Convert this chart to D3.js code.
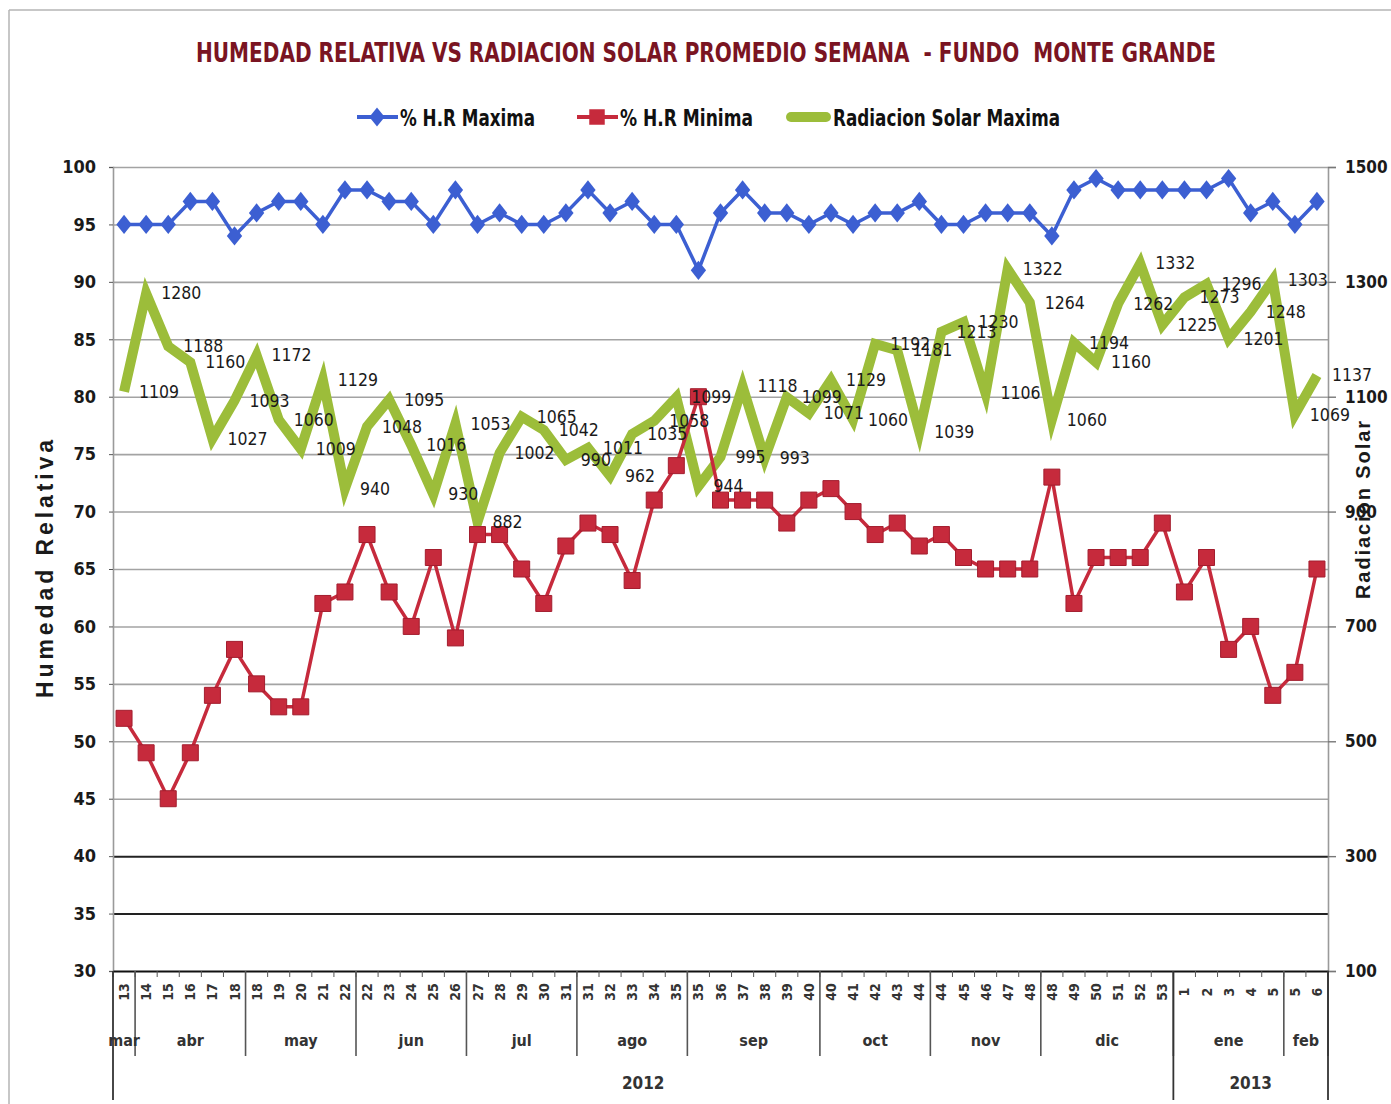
<!DOCTYPE html>
<html>
<head>
<meta charset="utf-8">
<script src="https://cdn.jsdelivr.net/npm/d3@7"></script>
<style>
  html, body { margin: 0; padding: 0; background: #fff; }
  svg { display: block; }
  .narrow { font-family: "Liberation Sans Narrow", "DejaVu Sans Condensed", "Roboto", sans-serif; }
  .pre { white-space: pre; }
</style>
</head>
<body>
<svg id="chart" width="1391" height="1104"></svg>
<script>
// Week numbers on the category axis
const weeks = ["13","14","15","16","17","18","18","19","20","21","22","22","23","24","25","26",
  "27","28","29","30","31","31","32","33","34","35","35","36","37","38","39","40","40","41","42",
  "43","44","44","45","46","47","48","48","49","50","51","52","53","1","2","3","4","5","5","6"];
// Month groups and how many weeks each spans
const months = ["mar","abr","may","jun","jul","ago","sep","oct","nov","dic","ene","feb"];
const monthCounts = [1,5,5,5,5,5,6,5,5,6,5,2];
// Year groups
const years = ["2012","2013"];
const yearCounts = [48,7];

// Weekly maximum relative humidity (%)
const hrMax = [95,95,95,97,97,94,96,97,97,95,98,98,97,97,95,98,95,96,95,95,
  96,98,96,97,95,95,91,96,98,96,96,95,96,95,96,96,97,95,95,96,
  96,96,94,98,99,98,98,98,98,98,99,96,97,95,97];
// Weekly minimum relative humidity (%)
const hrMin = [52,49,45,49,54,58,55,53,53,62,63,68,63,60,66,59,68,68,65,62,
  67,69,68,64,71,74,80,71,71,71,69,71,72,70,68,69,67,68,66,65,
  65,65,73,62,66,66,66,69,63,66,58,60,54,56,65];
// Weekly maximum solar radiation
const radMax = [1109,1280,1188,1160,1027,1093,1172,1060,1009,1129,940,1048,1095,1016,930,
  1053,882,1002,1065,1042,990,1011,962,1035,1058,1099,944,995,1118,993,1099,1071,1129,1060,
  1192,1181,1039,1213,1230,1106,1322,1264,1060,1194,1160,1262,1332,1225,1273,1296,1201,1248,
  1303,1069,1137];

const leftTicks = [30,35,40,45,50,55,60,65,70,75,80,85,90,95,100];
const rightTicks = [100,300,500,700,900,1100,1300,1500];

const C_BLUE = "#3c5fd2", C_RED = "#c62a3c", C_GREEN = "#9cbd3a", C_TITLE = "#7a1422";

const svg = d3.select("#chart");
const plot = { left: 113, right: 1328, top: 167, bottom: 971 };

const x = d3.scaleBand().domain(d3.range(weeks.length)).range([plot.left, plot.right]);
const yL = d3.scaleLinear().domain([30, 100]).range([plot.bottom, plot.top]);
const yR = d3.scaleLinear().domain([100, 1500]).range([plot.bottom, plot.top]);
const cx = i => x(i) + x.bandwidth() / 2;

// outer frame
svg.append("line").attr("x1", 9).attr("x2", 1391).attr("y1", 10).attr("y2", 10)
  .attr("stroke", "#b5b5b5").attr("stroke-width", 1.5);
svg.append("line").attr("x1", 9).attr("x2", 9).attr("y1", 10).attr("y2", 1104)
  .attr("stroke", "#b5b5b5").attr("stroke-width", 1.5);

// title
svg.append("text").attr("class", "narrow pre")
  .attr("x", 706).attr("y", 62).attr("text-anchor", "middle")
  .attr("font-size", 26).attr("font-weight", "bold").attr("fill", C_TITLE)
  .attr("textLength", 1020).attr("lengthAdjust", "spacingAndGlyphs")
  .text("HUMEDAD RELATIVA VS RADIACION SOLAR PROMEDIO SEMANA  - FUNDO  MONTE GRANDE");

// horizontal gridlines via the left axis
const grid = svg.append("g").attr("transform", `translate(${plot.left},0)`)
  .call(d3.axisLeft(yL).tickValues(leftTicks).tickSize(-(plot.right - plot.left)).tickFormat(""));
grid.select(".domain").remove();
grid.selectAll(".tick line")
  .attr("stroke", d => (d === 35 || d === 40) ? "#222" : "#a3a3a3")
  .attr("stroke-width", d => (d === 35 || d === 40) ? 2 : 1.6);
grid.selectAll(".tick").filter(d => d === 30).remove();

// left axis labels
const axL = svg.append("g").attr("transform", `translate(${plot.left},0)`)
  .call(d3.axisLeft(yL).tickValues(leftTicks).tickSize(4).tickPadding(13));
axL.select(".domain").attr("stroke", "#9a9a9a").attr("stroke-width", 1.6);
axL.selectAll(".tick line").attr("stroke", "#555");
axL.selectAll(".tick text").attr("class", "narrow").attr("font-size", 18)
  .attr("font-weight", "bold").attr("fill", "#1a1a1a");

// right axis
const axR = svg.append("g").attr("transform", `translate(${plot.right},0)`)
  .call(d3.axisRight(yR).tickValues(rightTicks).tickFormat(d3.format("d")).tickSize(8).tickPadding(9));
axR.select(".domain").attr("stroke", "#9a9a9a").attr("stroke-width", 1.6);
axR.selectAll(".tick line").attr("stroke", "#777").attr("stroke-width", 1.4);
axR.selectAll(".tick text").attr("class", "narrow").attr("font-size", 17)
  .attr("font-weight", "bold").attr("fill", "#1a1a1a");

// axis titles
svg.append("text").attr("transform", "translate(53,569) rotate(-90)")
  .attr("text-anchor", "middle").attr("font-family", "Liberation Sans, Arial, sans-serif")
  .attr("font-size", 23).attr("font-weight", "bold").attr("fill", "#1a1a1a")
  .attr("textLength", 258).attr("lengthAdjust", "spacing")
  .text("Humedad Relativa");
svg.append("text").attr("transform", "translate(1370,510) rotate(-90)")
  .attr("text-anchor", "middle").attr("font-family", "Liberation Sans, Arial, sans-serif")
  .attr("font-size", 20).attr("font-weight", "bold").attr("fill", "#1a1a1a")
  .attr("textLength", 178).attr("lengthAdjust", "spacing")
  .text("Radiacion Solar");

// bottom category axis (week numbers)
const axB = svg.append("g").attr("transform", `translate(0,${plot.bottom})`)
  .call(d3.axisBottom(x).tickSize(0).tickFormat(i => weeks[i]));
axB.select(".domain").attr("stroke", "#111").attr("stroke-width", 2.2);
axB.selectAll(".tick text")
  .attr("class", "narrow").attr("font-size", 14).attr("font-weight", "bold").attr("fill", "#333")
  .attr("y", 0).attr("dy", 0)
  .attr("transform", "translate(0,21) rotate(-90)")
  .attr("text-anchor", "middle").attr("dominant-baseline", "central");

// week boundary ticks
svg.append("g").selectAll("line").data(d3.range(weeks.length + 1)).join("line")
  .attr("x1", i => i < weeks.length ? x(i) : plot.right)
  .attr("x2", i => i < weeks.length ? x(i) : plot.right)
  .attr("y1", plot.bottom).attr("y2", plot.bottom + 6)
  .attr("stroke", "#555").attr("stroke-width", 1);

// month groups
let acc = 0;
const monthSpans = months.map((m, k) => { const s = acc; acc += monthCounts[k]; return { m, s, e: acc }; });
const edge = i => i < weeks.length ? x(i) : plot.right;
const gM = svg.append("g");
gM.selectAll("line").data(monthSpans).join("line")
  .attr("x1", d => edge(d.e)).attr("x2", d => edge(d.e))
  .attr("y1", plot.bottom).attr("y2", 1056)
  .attr("stroke", "#555").attr("stroke-width", 1.6);
gM.selectAll("text").data(monthSpans).join("text").attr("class", "narrow")
  .attr("x", d => (edge(d.s) + edge(d.e)) / 2).attr("y", 1046)
  .attr("text-anchor", "middle").attr("font-size", 16).attr("font-weight", "bold").attr("fill", "#333")
  .text(d => d.m);

// year groups
acc = 0;
const yearSpans = years.map((yv, k) => { const s = acc; acc += yearCounts[k]; return { yv, s, e: acc }; });
const gY = svg.append("g");
gY.append("line").attr("x1", plot.left).attr("x2", plot.left)
  .attr("y1", plot.bottom).attr("y2", 1100).attr("stroke", "#333").attr("stroke-width", 1.8);
gY.selectAll("line.ye").data(yearSpans).join("line").attr("class", "ye")
  .attr("x1", d => edge(d.e)).attr("x2", d => edge(d.e))
  .attr("y1", plot.bottom).attr("y2", 1100)
  .attr("stroke", "#333").attr("stroke-width", 1.8);
gY.selectAll("text").data(yearSpans).join("text").attr("class", "narrow")
  .attr("x", d => (edge(d.s) + edge(d.e)) / 2).attr("y", 1089)
  .attr("text-anchor", "middle").attr("font-size", 17).attr("font-weight", "bold").attr("fill", "#333")
  .text(d => d.yv);

// series lines
const lineL = d3.line().x((d, i) => cx(i)).y(d => yL(d));
const lineR = d3.line().x((d, i) => cx(i)).y(d => yR(d));

svg.append("path").datum(radMax).attr("d", lineR)
  .attr("fill", "none").attr("stroke", C_GREEN).attr("stroke-width", 10)
  .attr("stroke-linejoin", "miter").attr("stroke-miterlimit", 6);

svg.append("path").datum(hrMin).attr("d", lineL)
  .attr("fill", "none").attr("stroke", C_RED).attr("stroke-width", 3.5);
svg.append("g").selectAll("path").data(hrMin).join("path")
  .attr("d", d3.symbol(d3.symbolSquare, 256))
  .attr("transform", (d, i) => `translate(${cx(i)},${yL(d)})`)
  .attr("fill", C_RED).attr("stroke", "#a31d2e").attr("stroke-width", 1);

// diamond marker, slightly taller than wide
const diamond = {
  draw(ctx, size) {
    const h = Math.sqrt(size) * 0.62, w = h * 0.8;
    ctx.moveTo(0, -h); ctx.lineTo(w, 0); ctx.lineTo(0, h); ctx.lineTo(-w, 0); ctx.closePath();
  }
};
svg.append("path").datum(hrMax).attr("d", lineL)
  .attr("fill", "none").attr("stroke", C_BLUE).attr("stroke-width", 3.5);
svg.append("g").selectAll("path").data(hrMax).join("path")
  .attr("d", d3.symbol(diamond, 240))
  .attr("transform", (d, i) => `translate(${cx(i)},${yL(d)})`)
  .attr("fill", C_BLUE);

// radiation value labels
svg.append("g").selectAll("text").data(radMax).join("text").attr("class", "narrow")
  .attr("x", (d, i) => cx(i) + 15).attr("y", d => yR(d))
  .attr("dominant-baseline", "central").attr("font-size", 17.5).attr("fill", "#1a1a1a")
  .text(d => d);

// legend
const legend = svg.append("g");
legend.append("line").attr("x1", 357).attr("x2", 398).attr("y1", 117).attr("y2", 117)
  .attr("stroke", C_BLUE).attr("stroke-width", 4);
legend.append("path").attr("d", d3.symbol(diamond, 240)).attr("transform", "translate(377,117)")
  .attr("fill", C_BLUE);
legend.append("line").attr("x1", 577).attr("x2", 618).attr("y1", 117).attr("y2", 117)
  .attr("stroke", C_RED).attr("stroke-width", 4);
legend.append("path").attr("d", d3.symbol(d3.symbolSquare, 240)).attr("transform", "translate(597,117)")
  .attr("fill", C_RED);
legend.append("line").attr("x1", 791).attr("x2", 826).attr("y1", 117).attr("y2", 117)
  .attr("stroke", C_GREEN).attr("stroke-width", 10).attr("stroke-linecap", "round");
const legendItems = [
  { t: "% H.R Maxima", x: 400, w: 135 },
  { t: "% H.R Minima", x: 620, w: 133 },
  { t: "Radiacion Solar Maxima", x: 833, w: 227 }
];
legend.selectAll("text").data(legendItems).join("text").attr("class", "narrow")
  .attr("x", d => d.x).attr("y", 126).attr("font-size", 23).attr("font-weight", "bold")
  .attr("fill", "#111").attr("textLength", d => d.w).attr("lengthAdjust", "spacingAndGlyphs")
  .text(d => d.t);
</script>
</body>
</html>
